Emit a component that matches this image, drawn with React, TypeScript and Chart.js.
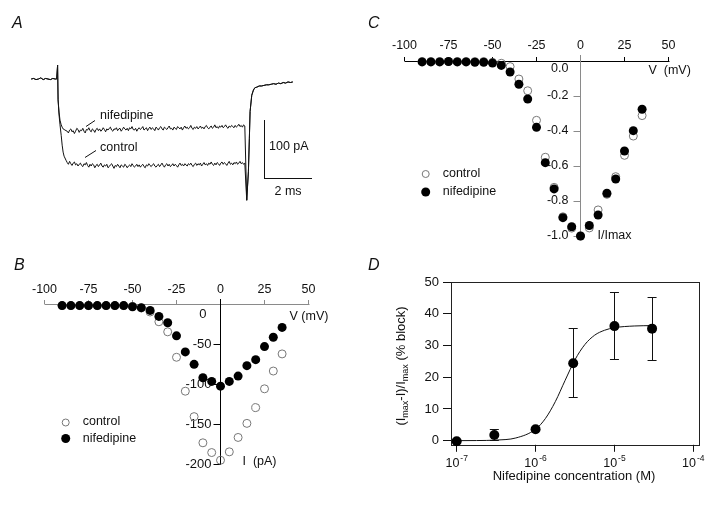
import React, { useEffect, useRef } from "react";
import { Chart, registerables } from "chart.js";
Chart.register(...registerables);

const FONT = '"Liberation Sans", Arial, Helvetica, sans-serif';
const INK = "#111";
const GRAY = "#8a8a8a";

// ---------------- Panel A: current traces (ms, pA) ----------------
const aBaseTimes = [-1.1, -1.0, -0.9, -0.8, -0.7, -0.6, -0.5, -0.4, -0.3, -0.2, -0.1, -0.04];
const aBase = [0, 1, -1, 0, 2, -1, 1, 0, -1, 1, 0, 0];
const aOnsetTimes = [0, 0.02, 0.06, 0.1, 0.15, 0.19, 0.23, 0.27, 0.35];
const aNifOnset = [24, -36, -57, -71, -79, -83, -86, -87, -89];
const aCtlOnset = [24, -36, -62, -79, -97, -114, -126, -133, -140];
const aPlateauStart = 0.4;
const aPlateauStep = 0.05;
const aNifPlateau = [
  -90, -93, -88, -86, -91, -89, -94, -90, -85, -87,
  -92, -88, -89, -85, -90, -93, -87, -88, -84, -89,
  -91, -86, -88, -92, -87, -85, -89, -86, -90, -88,
  -84, -87, -91, -86, -88, -85, -83, -88, -90, -86,
  -87, -84, -89, -86, -85, -90, -87, -83, -86, -88,
  -85, -89, -84, -86, -82, -87, -88, -85, -90, -86,
  -84, -87, -85, -82, -88, -86, -84, -89, -85, -83,
  -87, -84, -86, -89, -83, -85, -88, -84, -82, -86,
  -88, -83, -85, -87, -84, -81, -86, -85, -88, -83,
  -85, -87, -82, -84, -86, -83, -88, -84, -81, -85,
  -83, -86, -84, -80, -85, -87, -83, -85, -82, -86,
  -84, -81, -85, -83, -86, -82, -80, -84, -86, -83,
  -81, -85, -83, -79, -84, -82, -85, -81, -83, -80,
  -84, -82, -79, -83, -85, -81, -83, -80, -82, -84,
  -80, -83, -81, -78, -82, -80, -83, -79, -81,
];
const aCtlPlateau = [
  -144, -147, -142, -146, -149, -145, -143, -148, -146, -150,
  -147, -145, -149, -151, -146, -148, -144, -149, -152, -147,
  -150, -146, -148, -153, -149, -147, -151, -148, -145, -150,
  -152, -148, -150, -147, -153, -151, -148, -146, -150, -154,
  -149, -151, -147, -150, -153, -148, -150, -152, -147, -149,
  -153, -150, -148, -151, -146, -149, -152, -150, -147, -151,
  -148, -152, -149, -147, -151, -153, -148, -150, -146, -149,
  -151, -148, -146, -150, -152, -149, -147, -151, -148, -145,
  -149, -152, -148, -146, -150, -147, -151, -149, -146, -150,
  -147, -149, -152, -148, -145, -149, -147, -150, -146, -148,
  -150, -146, -148, -145, -149, -151, -147, -145, -149, -146,
  -148, -145, -150, -147, -144, -148, -146, -149, -145, -147,
  -143, -147, -149, -145, -148, -144, -146, -149, -145, -143,
  -147, -144, -146, -149, -145, -142, -147, -145, -148, -144,
  -146, -143, -147, -145, -142, -146, -144, -147, -145,
];
const aOffsetTimes = [7.88, 7.95, 7.99, 8.02, 8.09, 8.16, 8.22];
const aOffset = [-209, -160, -102, -56, -28, -19, -15];
const aTailStart = 8.3;
const aTailStep = 0.1;
const aTail = [-14, -12, -12, -11, -10, -10, -9, -8, -9, -7, -8, -6, -7, -5, -6, -5];
const aScaleBarT = 8.6; // ms
const aScaleBarMs = 2;
const aScaleBarTop = -70.7; // pA
const aScaleBarPA = 100;

// ---------------- Panel B: I-V (pA) ----------------
const voltages = [-90, -85, -80, -75, -70, -65, -60, -55, -50, -45, -40, -35, -30, -25, -20, -15, -10, -5, 0, 5, 10, 15, 20, 25, 30, 35];
const bNif = [-2, -2, -2, -2, -2, -2, -2, -2, -3.4, -4.6, -8, -15.5, -23.5, -39.8, -59.9, -75.4, -92.2, -96.8, -102.7, -96.8, -90.1, -77.1, -69.6, -53.2, -41.5, -29.3];
const bCtl = [-2, -2, -2, -2, -2, -2, -2, -2, -3, -5, -10, -22.2, -34.8, -66.6, -109, -140.8, -173.5, -185.7, -195.3, -184.8, -166.8, -149.2, -129.5, -106, -83.8, -62.4];
const vTicks = [-100, -75, -50, -25, 0, 25, 50];
const bYTicks = [-50, -100, -150, -200];

// ---------------- Panel C: normalised I-V ----------------
const cNif = [-0.005, -0.005, -0.005, -0.003, -0.005, -0.005, -0.007, -0.007, -0.012, -0.025, -0.063, -0.133, -0.217, -0.379, -0.581, -0.731, -0.895, -0.947, -1.0, -0.94, -0.88, -0.756, -0.674, -0.514, -0.398, -0.276];
const cCtl = [-0.003, -0.003, -0.003, -0.003, -0.003, -0.003, -0.003, -0.003, -0.008, -0.013, -0.032, -0.103, -0.17, -0.339, -0.55, -0.722, -0.89, -0.955, -1.0, -0.954, -0.851, -0.762, -0.661, -0.539, -0.429, -0.312];
const cYTicks = [-0.2, -0.4, -0.6, -0.8, -1.0];

// ---------------- Panel D: dose-response ----------------
const dConc = [1e-7, 3e-7, 1e-6, 3e-6, 1e-5, 3e-5];
const dBlock = [-0.2, 1.8, 3.6, 24.4, 36.1, 35.3];
const dErr = [0, 1.6, 0.5, 10.9, 10.5, 9.9];
const fitConc = [1e-7, 1.78e-7, 3.16e-7, 5.62e-7, 1e-6, 1.33e-6, 1.78e-6, 2.37e-6, 3.16e-6, 4.22e-6, 5.62e-6, 7.5e-6, 1e-5, 1.78e-5, 3e-5];
const fitBlock = [0.01, 0.04, 0.19, 0.85, 3.6, 6.95, 12.3, 19.0, 25.5, 30.3, 33.25, 34.8, 35.6, 36.14, 36.26];
const dYTicks = [0, 10, 20, 30, 40, 50];
const dXExps = [-7, -6, -5, -4];

// ---------------- drawing helpers ----------------
function txt(ctx: any, s: string, x: number, y: number, size = 12.5, align: any = "left", italic = false, baseline: any = "middle") {
  ctx.save();
  ctx.font = `${italic ? "italic " : ""}${size}px ${FONT}`;
  ctx.fillStyle = INK;
  ctx.textAlign = align;
  ctx.textBaseline = baseline;
  ctx.fillText(s, x, y);
  ctx.restore();
}
function snap(v: number) {
  return Math.round(v - 0.5) + 0.5;
}
function seg(ctx: any, x1: number, y1: number, x2: number, y2: number, color = INK, w = 1) {
  ctx.save();
  ctx.strokeStyle = color;
  ctx.lineWidth = w;
  ctx.beginPath();
  ctx.moveTo(x1, y1);
  ctx.lineTo(x2, y2);
  ctx.stroke();
  ctx.restore();
}
function hline(ctx: any, x1: number, x2: number, y: number, color = INK) {
  seg(ctx, x1, snap(y), x2, snap(y), color);
}
function vline(ctx: any, x: number, y1: number, y2: number, color = INK) {
  seg(ctx, snap(x), y1, snap(x), y2, color);
}
function dot(ctx: any, x: number, y: number, r: number, filled: boolean) {
  ctx.save();
  ctx.beginPath();
  ctx.arc(x, y, r, 0, Math.PI * 2);
  if (filled) {
    ctx.fillStyle = "#000";
    ctx.fill();
  } else {
    ctx.strokeStyle = "#777";
    ctx.lineWidth = 1;
    ctx.stroke();
  }
  ctx.restore();
}

function baseOptions(pad: any, x: any, y: any) {
  return {
    responsive: false,
    animation: false,
    events: [],
    layout: { padding: pad },
    scales: { x: { display: false, ...x }, y: { display: false, ...y } },
    plugins: { legend: { display: false }, tooltip: { enabled: false } },
  };
}

function pts(xs: number[], ys: number[]) {
  return xs.map((x, i) => ({ x, y: ys[i] }));
}

function traceData(onset: number[], plateau: number[]) {
  const d: any[] = [];
  aBaseTimes.forEach((t, i) => d.push({ x: t, y: aBase[i] }));
  aOnsetTimes.forEach((t, i) => d.push({ x: t, y: onset[i] }));
  plateau.forEach((v, i) => d.push({ x: aPlateauStart + i * aPlateauStep, y: v }));
  aOffsetTimes.forEach((t, i) => d.push({ x: t, y: aOffset[i] }));
  aTail.forEach((v, i) => d.push({ x: aTailStart + i * aTailStep, y: v }));
  return d;
}

const ivPoint = (filled: boolean) =>
  filled
    ? { pointRadius: 4.5, pointBackgroundColor: "#000", pointBorderColor: "#000", pointBorderWidth: 0, showLine: false, clip: false }
    : { pointRadius: 4, pointBackgroundColor: "rgba(0,0,0,0)", pointBorderColor: "#777", pointBorderWidth: 1, showLine: false, clip: false };

// ---------------- plugins ----------------
const panelA = {
  id: "panelA",
  afterDatasetsDraw(chart: any) {
    const { ctx } = chart;
    const xs = chart.scales.x, ys = chart.scales.y;
    const bx = xs.getPixelForValue(aScaleBarT);
    const bx2 = xs.getPixelForValue(aScaleBarT + aScaleBarMs);
    const by1 = ys.getPixelForValue(aScaleBarTop);
    const by2 = ys.getPixelForValue(aScaleBarTop - aScaleBarPA);
    vline(ctx, bx, by1, by2 + 0.5);
    hline(ctx, bx, bx2, by2);
    txt(ctx, "100 pA", bx + 5, by1 + 27, 12.5, "left");
    txt(ctx, "2 ms", (bx + bx2) / 2, by2 + 14, 12.5, "center");
    txt(ctx, "nifedipine", 100, 115.5, 12.5, "left");
    seg(ctx, 86, 126.5, 95, 120.5);
    txt(ctx, "control", 100, 148, 12.5, "left");
    seg(ctx, 85, 157.5, 96, 150.5);
    txt(ctx, "A", 12, 24, 16, "left", true);
  },
};

const panelB = {
  id: "panelB",
  beforeDatasetsDraw(chart: any) {
    const { ctx } = chart;
    const xs = chart.scales.x, ys = chart.scales.y;
    const x0 = xs.getPixelForValue(0), y0 = ys.getPixelForValue(0);
    hline(ctx, xs.getPixelForValue(-100), xs.getPixelForValue(50) + 1, y0, GRAY);
    vTicks.forEach((v) => {
      const px = xs.getPixelForValue(v);
      vline(ctx, px, y0 - 4, y0, GRAY);
      txt(ctx, String(v), px, y0 - 14, 12.5, "center");
    });
    vline(ctx, x0, y0 - 5, ys.getPixelForValue(-200) + 1, "#000");
    bYTicks.forEach((v) => {
      const py = ys.getPixelForValue(v);
      hline(ctx, x0 - 7, x0, py, "#000");
      txt(ctx, String(v), x0 - 9, py, 13, "right");
    });
    txt(ctx, "0", x0 - 14, y0 + 10, 13, "right");
    txt(ctx, "V (mV)", x0 + 69, y0 + 13, 12.5, "left");
    txt(ctx, "I  (pA)", x0 + 22, ys.getPixelForValue(-200) - 2, 12.5, "left");
    dot(ctx, 65.7, 422.5, 3.5, false);
    txt(ctx, "control", 82.7, 422, 12.5, "left");
    dot(ctx, 65.7, 438.5, 4.5, true);
    txt(ctx, "nifedipine", 82.7, 438.5, 12.5, "left");
    txt(ctx, "B", 14, 266, 16, "left", true);
  },
};

const panelC = {
  id: "panelC",
  beforeDatasetsDraw(chart: any) {
    const { ctx } = chart;
    const xs = chart.scales.x, ys = chart.scales.y;
    const x0 = xs.getPixelForValue(0), y0 = ys.getPixelForValue(0);
    hline(ctx, xs.getPixelForValue(-100), xs.getPixelForValue(50) + 1, y0, "#000");
    vTicks.forEach((v) => {
      const px = xs.getPixelForValue(v);
      vline(ctx, px, y0 - 4, y0, "#000");
      txt(ctx, String(v), px, y0 - 15, 12.5, "center");
    });
    vline(ctx, x0, y0 - 6, ys.getPixelForValue(-1) + 1, GRAY);
    cYTicks.forEach((v) => {
      const py = ys.getPixelForValue(v);
      hline(ctx, x0 - 7, x0, py, GRAY);
      txt(ctx, v.toFixed(1), x0 - 12, py, 12.5, "right");
    });
    txt(ctx, "0.0", x0 - 12, y0 + 8, 12.5, "right");
    txt(ctx, "V  (mV)", x0 + 68, y0 + 10, 12.5, "left");
    txt(ctx, "I/Imax", x0 + 17, ys.getPixelForValue(-1), 12.5, "left");
    dot(ctx, 425.7, 174, 3.5, false);
    txt(ctx, "control", 442.7, 173.5, 12.5, "left");
    dot(ctx, 425.7, 192, 4.5, true);
    txt(ctx, "nifedipine", 442.7, 192, 12.5, "left");
    txt(ctx, "C", 368, 24, 16, "left", true);
  },
};

const panelD = {
  id: "panelD",
  beforeDatasetsDraw(chart: any) {
    const { ctx, chartArea: a } = chart;
    const xs = chart.scales.x, ys = chart.scales.y;
    ctx.save();
    ctx.strokeStyle = "#222";
    ctx.lineWidth = 1;
    ctx.strokeRect(snap(a.left), snap(a.top), Math.round(a.right - a.left), Math.round(a.bottom - a.top));
    ctx.restore();
    dYTicks.forEach((v) => {
      const py = ys.getPixelForValue(v);
      hline(ctx, a.left - 8, a.left, py);
      txt(ctx, String(v), a.left - 12, py, 13, "right");
    });
    dXExps.forEach((e) => {
      const px = xs.getPixelForValue(Math.pow(10, e));
      vline(ctx, px, a.bottom, a.bottom + 7);
      ctx.save();
      ctx.font = `12.5px ${FONT}`;
      const w1 = ctx.measureText("10").width;
      ctx.font = `8.5px ${FONT}`;
      const es = String(e);
      const w2 = ctx.measureText(es).width;
      ctx.restore();
      const left = px - (w1 + w2 + 1) / 2;
      txt(ctx, "10", left, a.bottom + 19, 12.5, "left");
      txt(ctx, es, left + w1 + 1, a.bottom + 14, 8.5, "left");
    });
    txt(ctx, "Nifedipine concentration (M)", 574, 476, 13, "center");
    const parts: [string, boolean][] = [["(I", false], ["max", true], ["-I)/I", false], ["max", true], [" (% block)", false]];
    ctx.save();
    ctx.translate(401.5, 366);
    ctx.rotate(-Math.PI / 2);
    let total = 0;
    parts.forEach(([s, sub]) => {
      ctx.font = `${sub ? 9 : 13}px ${FONT}`;
      total += ctx.measureText(s).width;
    });
    let cx = -total / 2;
    ctx.fillStyle = INK;
    ctx.textBaseline = "middle";
    ctx.textAlign = "left";
    parts.forEach(([s, sub]) => {
      ctx.font = `${sub ? 9 : 13}px ${FONT}`;
      ctx.fillText(s, cx, sub ? 4 : 0);
      cx += ctx.measureText(s).width;
    });
    ctx.restore();
    dConc.forEach((c, i) => {
      if (!dErr[i]) return;
      const px = xs.getPixelForValue(c);
      const t = ys.getPixelForValue(dBlock[i] + dErr[i]);
      const b = ys.getPixelForValue(dBlock[i] - dErr[i]);
      vline(ctx, px, t, b);
      hline(ctx, px - 4.5, px + 4.5, t);
      hline(ctx, px - 4.5, px + 4.5, b);
    });
    txt(ctx, "D", 368, 266, 16, "left", true);
  },
};

export default function App() {
  const refA = useRef<HTMLCanvasElement>(null);
  const refB = useRef<HTMLCanvasElement>(null);
  const refC = useRef<HTMLCanvasElement>(null);
  const refD = useRef<HTMLCanvasElement>(null);

  useEffect(() => {
    const charts: Chart[] = [];
    const traceStyle = { showLine: true, pointRadius: 0, borderColor: INK, borderWidth: 1, clip: false };

    charts.push(
      new Chart(refA.current as any, {
        type: "scatter",
        data: {
          datasets: [
            { label: "nifedipine", data: traceData(aNifOnset, aNifPlateau), ...traceStyle },
            { label: "control", data: traceData(aCtlOnset, aCtlPlateau), ...traceStyle },
          ],
        },
        options: baseOptions({ left: 30, right: 408, top: 60, bottom: 306 }, { type: "linear", min: -1.15, max: 10.6 }, { min: -217.2, max: 32.8 }) as any,
        plugins: [panelA],
      })
    );

    charts.push(
      new Chart(refB.current as any, {
        type: "scatter",
        data: {
          datasets: [
            { label: "nifedipine", data: pts(voltages, bNif), ...ivPoint(true) },
            { label: "control", data: pts(voltages, bCtl), ...ivPoint(false) },
          ],
        },
        options: baseOptions({ left: 44.5, right: 411.5, top: 304, bottom: 47 }, { type: "linear", min: -100, max: 50 }, { min: -200, max: 0 }) as any,
        plugins: [panelB],
      })
    );

    charts.push(
      new Chart(refC.current as any, {
        type: "scatter",
        data: {
          datasets: [
            { label: "nifedipine", data: pts(voltages, cNif), ...ivPoint(true) },
            { label: "control", data: pts(voltages, cCtl), ...ivPoint(false) },
          ],
        },
        options: baseOptions({ left: 404.5, right: 51.5, top: 61, bottom: 275 }, { type: "linear", min: -100, max: 50 }, { min: -1, max: 0 }) as any,
        plugins: [panelC],
      })
    );

    charts.push(
      new Chart(refD.current as any, {
        type: "scatter",
        data: {
          datasets: [
            { label: "block", data: pts(dConc, dBlock), pointRadius: 5, pointBackgroundColor: "#000", pointBorderColor: "#000", pointBorderWidth: 0, showLine: false, clip: false },
            { label: "fit", data: pts(fitConc, fitBlock), showLine: true, pointRadius: 0, borderColor: INK, borderWidth: 1, cubicInterpolationMode: "monotone", clip: false },
          ],
        },
        options: baseOptions({ left: 451, right: 21, top: 282, bottom: 66.2 }, { type: "logarithmic", min: Math.pow(10, -7.072), max: Math.pow(10, -3.928) }, { min: -1.3, max: 50 }) as any,
        plugins: [panelD],
      })
    );

    return () => charts.forEach((c) => c.destroy());
  }, []);

  const cv = { position: "absolute" as const, left: 0, top: 0 };
  return (
    <div style={{ position: "fixed", left: 0, top: 0, width: 720, height: 511, background: "#fff" }}>
      <canvas ref={refA} width={720} height={511} style={cv} />
      <canvas ref={refB} width={720} height={511} style={cv} />
      <canvas ref={refC} width={720} height={511} style={cv} />
      <canvas ref={refD} width={720} height={511} style={cv} />
    </div>
  );
}
